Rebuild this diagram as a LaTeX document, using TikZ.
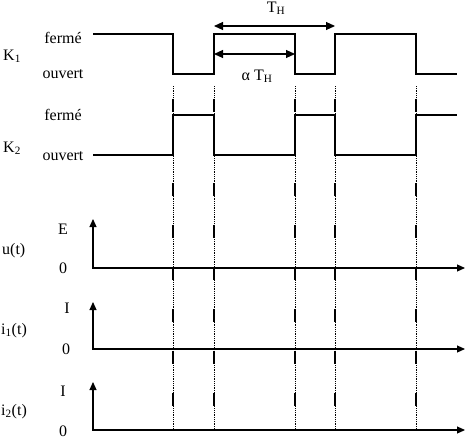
\documentclass[tikz,border=0pt]{standalone}
\usepackage{fontspec}
\setmainfont{Liberation Serif}
\usetikzlibrary{arrows.meta}

\tikzset{
	lbl/.style = {inner sep = 0pt, font = \fontsize{16}{19}\selectfont},
	sig/.style = {line width = 1.1pt},
	guidedot/.style = {line width = 0.7pt, dash pattern = on 0.9pt off 0.9pt},
	guidedash/.style = {line width = 1.3pt, dash pattern = on 13pt off 29pt, dash phase = 29pt},
	axes/.style = {line width = 1.1pt, {Triangle[length = 8pt, width = 7pt]}-{Triangle[length = 8pt, width = 7pt]}},
	dim/.style = {line width = 1.1pt, {Triangle[length = 9pt, width = 8pt]}-{Triangle[length = 9pt, width = 8pt]}}
}

\begin{document}
\begin{tikzpicture}[x = 1pt, y = -1pt]
	\useasboundingbox (0,0) rectangle (471,445);

	% switch states
	\node [lbl, anchor = base west] (k1) at (3,60) {K\textsubscript{1}};
	\node [lbl, anchor = base west] (k2) at (3,152) {K\textsubscript{2}};
	\node [lbl, anchor = base] (ferme1) at (63,43) {fermé};
	\node [lbl, anchor = base] (ouvert1) at (63,78) {ouvert};
	\node [lbl, anchor = base] (ferme2) at (63,120) {fermé};
	\node [lbl, anchor = base] (ouvert2) at (63,160) {ouvert};

	\draw [sig] (93,34) -- (173,34) -- (173,74) -- (214,74) -- (214,34) -- (295,34) -- (295,74)
		-- (335,74) -- (335,34) -- (416,34) -- (416,74) -- (457,74);
	\draw [sig] (93,155) -- (173,155) -- (173,115) -- (214,115) -- (214,155) -- (295,155) -- (295,115)
		-- (335,115) -- (335,155) -- (416,155) -- (416,115) -- (457,115);

	% periods
	\draw [dim] (214,26) -- (335,26);
	\draw [dim] (214,54) -- (295,54);
	\node [lbl, anchor = base] (th) at (276,12) {T\textsubscript{H}};
	\node [lbl, anchor = base] (ath) at (257,80) {α T\textsubscript{H}};

	% switching instants
	\foreach \x in {173,214,295,335,416} {
		\draw [guidedot] (\x,86) -- (\x,430);
		\draw [guidedash] (\x,86) -- (\x,430);
	}

	% time axes
	\foreach \y/\t in {268/219, 349/302, 430/382}
		\draw [axes] (93,\t) -- (93,\y) -- (465,\y);

	\node [lbl, anchor = base west] (u) at (2,254) {u(t)};
	\node [lbl, anchor = base] (uE) at (63,234) {E};
	\node [lbl, anchor = base] (u0) at (63,273) {0};
	\node [lbl, anchor = base west] (i1) at (1,334) {i\textsubscript{1}(t)};
	\node [lbl, anchor = base] (i1I) at (67,313) {I};
	\node [lbl, anchor = base] (i10) at (66,354) {0};
	\node [lbl, anchor = base west] (i2) at (1,415) {i\textsubscript{2}(t)};
	\node [lbl, anchor = base] (i2I) at (63,396) {I};
	\node [lbl, anchor = base] (i20) at (63,436) {0};
\end{tikzpicture}
\end{document}
